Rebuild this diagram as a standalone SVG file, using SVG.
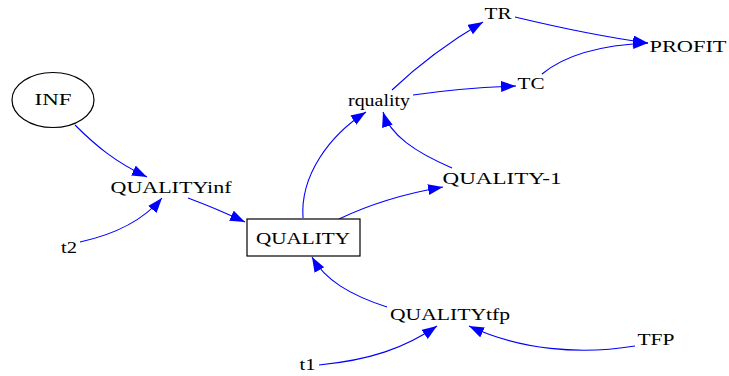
<svg xmlns="http://www.w3.org/2000/svg" width="729" height="376" viewBox="0 0 729 376">
<style>
text{font-family:"Liberation Serif","Times New Roman",serif;font-size:17px;fill:#000;text-anchor:middle}
.e{fill:none;stroke:#0000ff;stroke-width:1.1;marker-end:url(#ah)}
.n{fill:#fff;stroke:#000;stroke-width:1.2}
</style>
<defs>
<marker id="ah" markerUnits="userSpaceOnUse" markerWidth="16" markerHeight="12" refX="15" refY="5.5" orient="auto">
<path d="M0,0 L15,5.5 L0,11 z" fill="#0000ff"/>
</marker>
</defs>
<rect width="729" height="376" fill="#fff"/>
<g id="connectors">
<path class="e" d="M75,125 C95,145 115,162 147,177"/>
<path class="e" d="M80,242 Q135,230 162,198"/>
<path class="e" d="M188,198 Q215,208 245,222"/>
<path class="e" d="M303,218 C300,175 330,135 366,112"/>
<path class="e" d="M339,219 Q385,197 443,187"/>
<path class="e" d="M452,168 C415,152 390,135 383,112"/>
<path class="e" d="M392,90 Q432,52 483,22"/>
<path class="e" d="M413,95 Q460,88 516,86"/>
<path class="e" d="M515,17 Q590,35 648,43"/>
<path class="e" d="M542,74 C565,55 600,45 648,43"/>
<path class="e" d="M387,307 C350,295 325,280 312,257"/>
<path class="e" d="M319,365 C370,360 405,348 437,326"/>
<path class="e" d="M635,346 C580,355 520,350 469,326"/>
</g>
<g id="INF"><ellipse class="n" cx="53" cy="100" rx="41" ry="27.5"/><text x="53" y="105" textLength="37" lengthAdjust="spacingAndGlyphs">INF</text></g>
<g id="QUALITYinf"><text x="171" y="193" textLength="121" lengthAdjust="spacingAndGlyphs">QUALITYinf</text></g>
<g id="t2"><text x="69" y="253" textLength="16" lengthAdjust="spacingAndGlyphs">t2</text></g>
<g id="QUALITY"><rect class="n" x="247" y="219" width="113" height="37"/><text x="303" y="244" textLength="94" lengthAdjust="spacingAndGlyphs">QUALITY</text></g>
<g id="rquality"><text x="379" y="106" textLength="62" lengthAdjust="spacingAndGlyphs">rquality</text></g>
<g id="QUALITY-1"><text x="502" y="184" textLength="119" lengthAdjust="spacingAndGlyphs">QUALITY-1</text></g>
<g id="TR"><text x="498" y="19" textLength="27" lengthAdjust="spacingAndGlyphs">TR</text></g>
<g id="TC"><text x="531" y="89" textLength="27" lengthAdjust="spacingAndGlyphs">TC</text></g>
<g id="PROFIT"><text x="688" y="52" textLength="77" lengthAdjust="spacingAndGlyphs">PROFIT</text></g>
<g id="QUALITYtfp"><text x="450" y="320" textLength="120" lengthAdjust="spacingAndGlyphs">QUALITYtfp</text></g>
<g id="t1"><text x="307.5" y="370" textLength="16" lengthAdjust="spacingAndGlyphs">t1</text></g>
<g id="TFP"><text x="656" y="345" textLength="37" lengthAdjust="spacingAndGlyphs">TFP</text></g>
</svg>
